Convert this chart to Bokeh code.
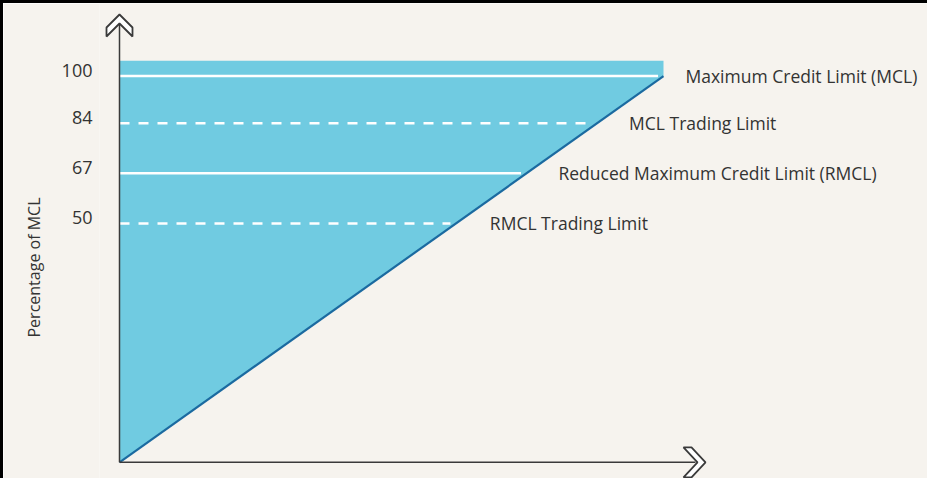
import math
from bokeh.plotting import figure
from bokeh.models import Range1d, FixedTicker, Title
from bokeh.core.properties import value
from bokeh.embed import file_html
from bokeh.resources import INLINE

# ---------------- data ----------------
levels = [100, 84, 67, 50]                      # percentage of MCL
level_labels = [
    "Maximum Credit Limit (MCL)",
    "MCL Trading Limit",
    "Reduced Maximum Credit Limit (RMCL)",
    "RMCL Trading Limit",
]
level_is_dashed = [False, True, False, True]
y_axis_title = "Percentage of MCL"
band_top = 105.2        # top of the shaded band above the MCL
origin_y = -31.0        # schematic baseline (not to scale)
limit_x = 100.0         # where the exposure line meets the MCL

# ---------------- styles ----------------
BG = "#f6f3ee"
FILL = "#70cbe1"
DIAG = "#1b6aa0"
AXIS = "#3a3a3a"
TEXT = "#333333"
FONT = "Open Sans"
label_dx = [22, 32, 32, 34]
tick_lift = 2           # raise tick labels slightly above their lines

W, H = 927, 478
FRAME_LEFT = 96
AXIS_PAD = 20
x_ppu = 5.44
x_start = -AXIS_PAD / x_ppu
x_end = (W - FRAME_LEFT - AXIS_PAD) / x_ppu
y_start, y_end = -37.5, 124.6
y_ppu = H / (y_end - y_start)

p = figure(width=W, height=H, output_backend="svg", toolbar_location=None,
           x_range=Range1d(x_start, x_end), y_range=Range1d(y_start, y_end),
           x_axis_location=None, min_border_left=FRAME_LEFT, min_border_right=0,
           min_border_top=0, min_border_bottom=0)
p.background_fill_color = BG
p.border_fill_color = BG
p.outline_line_color = None
p.xgrid.grid_line_color = None
p.ygrid.grid_line_color = None
p.styles = {"border-left": "3px solid #000", "border-top": "3px solid #000"}


def diag_x(v):
    return (v - origin_y) / (100 - origin_y) * limit_x


# shaded region
p.patch([0, limit_x, limit_x, 0], [origin_y, 100, band_top, band_top],
        fill_color=FILL, line_color=None)

# level lines
gap = 1.0
sol = [v for v, d in zip(levels, level_is_dashed) if not d]
das = [v for v, d in zip(levels, level_is_dashed) if d]
p.segment(x0=[0] * len(sol), y0=sol, x1=[diag_x(v) - gap for v in sol], y1=sol,
          line_color="white", line_width=2.5)
p.segment(x0=[0] * len(das), y0=das, x1=[diag_x(v) - gap for v in das], y1=das,
          line_color="white", line_width=2.5, line_dash="10 9")

# diagonal
p.line([0, limit_x], [origin_y, 100], line_color=DIAG, line_width=2.2)

# axes lines with chevrons
top_tip = y_end - 11 / y_ppu
right_tip = (713 - 127) / x_ppu
p.line([0, 0], [origin_y, top_tip - 10 / y_ppu], line_color=AXIS, line_width=1.5)
p.line([0, right_tip - 10 / x_ppu], [origin_y, origin_y], line_color=AXIS, line_width=1.5)

up = [(0, 0), (13, 13), (13, 22), (0, 9), (-13, 22), (-13, 13)]
p.patch([dx / x_ppu for dx, dy in up], [top_tip - dy / y_ppu for dx, dy in up],
        fill_color="white", line_color=AXIS, line_width=1.8)
rt = [(0, 0), (-14, 15), (-22, 15), (-8, 0), (-22, -15), (-14, -15)]
p.patch([right_tip + dx / x_ppu for dx, dy in rt], [origin_y + dy / y_ppu for dx, dy in rt],
        fill_color="white", line_color=AXIS, line_width=1.8)

# level labels
p.text(x=[diag_x(v) for v in levels], y=levels, text=level_labels, x_offset=label_dx,
       text_font=value(FONT), text_font_size="17.5px", text_color=TEXT,
       text_align="left", text_baseline="alphabetic")

# y axis ticks
ax = p.yaxis[0]
ax.ticker = FixedTicker(ticks=[v + tick_lift for v in levels])
ax.major_label_overrides = {v + tick_lift: str(v) for v in levels}
ax.axis_line_color = None
ax.major_tick_line_color = None
ax.minor_tick_line_color = None
ax.major_tick_out = 0
ax.major_tick_in = 0
ax.major_label_standoff = 7
ax.major_label_text_font = FONT
ax.major_label_text_font_size = "18px"
ax.major_label_text_color = TEXT

p.add_layout(Title(text=y_axis_title, align="left", offset=144, standoff=28,
                   text_font=FONT, text_font_size="16px", text_font_style="normal",
                   text_color=TEXT), "left")

open("out.html", "w").write(file_html(p, INLINE))
